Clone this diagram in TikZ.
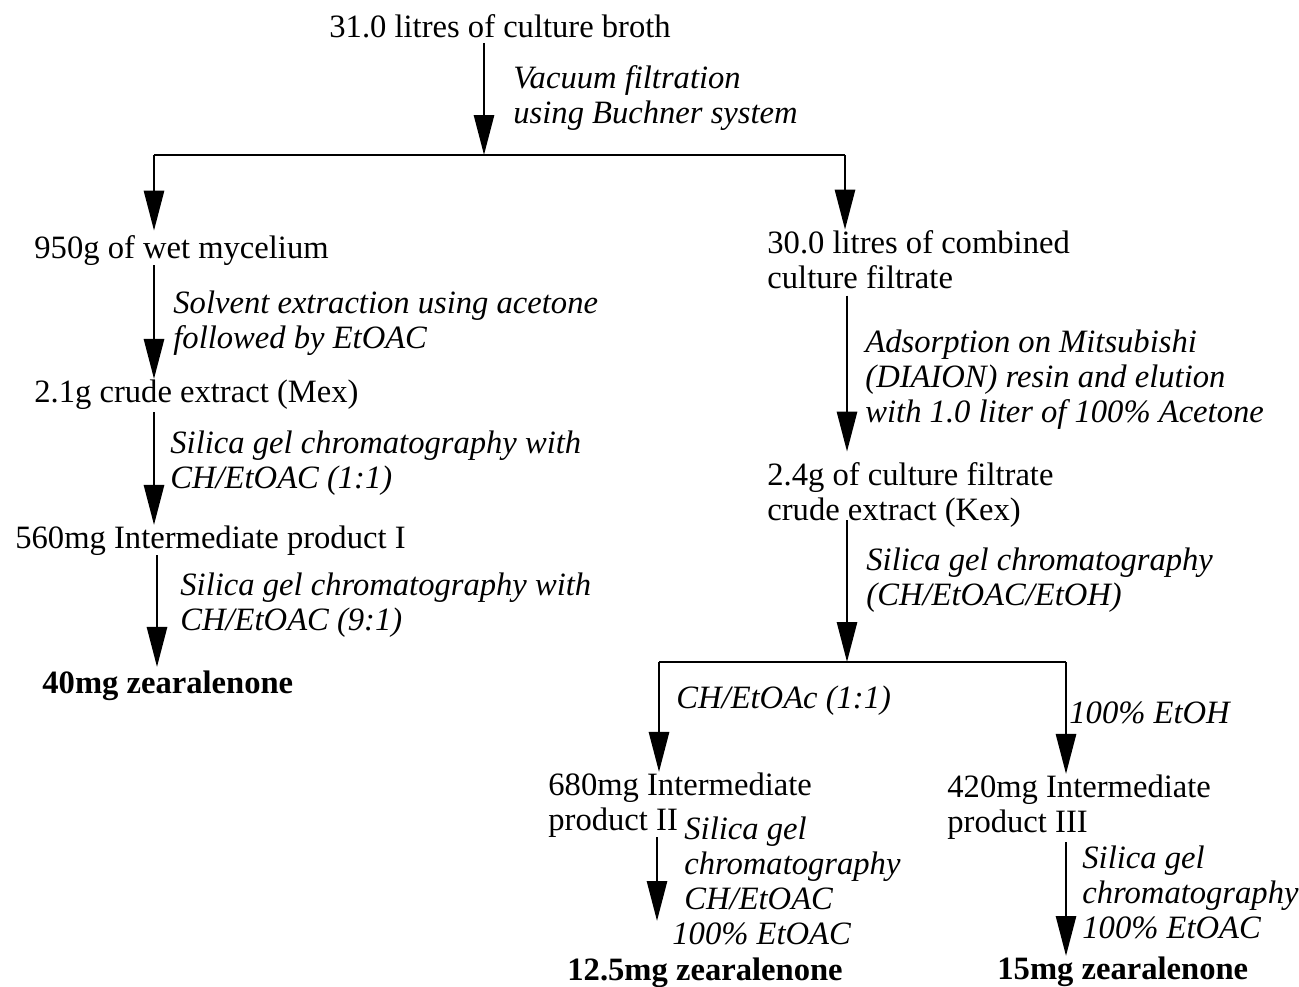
\documentclass[tikz,border=0pt]{standalone}
\usepackage{fontspec}
\setmainfont{Liberation Serif}
\usetikzlibrary{arrows.meta}

\begin{document}
\begin{tikzpicture}[
    x=0.5pt, y=-0.5pt,
    stage/.style={inner sep=0pt, anchor=base west, font=\fontsize{16.3}{17.5}\selectfont, align=left},
    cond/.style={stage, font=\fontsize{16.3}{17.5}\selectfont\itshape},
    final/.style={stage, font=\fontsize{16.3}{17.5}\selectfont\bfseries},
    arrow/.style={-{Triangle[length=20pt, width=10pt]}, line width=1.4pt},
    fork/.style={line width=1.4pt}
]
\useasboundingbox (0,0) rectangle (1299,986);

% Stages (multi-line nodes sit on their last line)
\node[stage] (broth) at (329,37) {31.0 litres of culture broth};
\node[stage] (wet) at (34,258) {950g of wet mycelium};
\node[stage] (comb) at (767,288) {30.0 litres of combined\\culture filtrate};
\node[stage] (mex) at (34,402) {2.1g crude extract (Mex)};
\node[stage] (int1) at (15,548) {560mg Intermediate product I};
\node[final] (zea1) at (42,693) {40mg zearalenone};
\node[stage] (kex) at (767,520) {2.4g of culture filtrate\\crude extract (Kex)};
\node[stage] (int2) at (548,830) {680mg Intermediate\\product II};
\node[stage] (int3) at (947,832) {420mg Intermediate\\product III};
\node[final] (zea2) at (567,980) {12.5mg zearalenone};
\node[final] (zea3) at (997,979) {15mg zearalenone};

% Branch points
\coordinate (split1) at (484,155);
\coordinate (fork1L) at (154,155);
\coordinate (fork1R) at (845,155);
\coordinate (split2) at (847,662);
\coordinate (fork2L) at (659,662);
\coordinate (fork2R) at (1066,662);

% Connections
\draw[arrow, shorten <=2.5pt] (broth.south -| split1) -- (split1);
\draw[fork] (fork1L) -- (fork1R);
\draw[arrow, shorten >=2pt] (fork1L) -- (wet.north -| fork1L);
\draw[arrow] (fork1R) -- (comb.north -| fork1R);
\draw[arrow] (wet.south -| fork1L) -- (mex.north -| fork1L);
\draw[arrow, shorten <=1.5pt] (mex.south -| fork1L) -- (int1.north -| fork1L);
\draw[arrow, shorten >=1.5pt] ([xshift=1.5pt]int1.south -| fork1L) -- ([xshift=1.5pt]zea1.north -| fork1L);
\draw[arrow, shorten <=3.5pt, shorten >=5pt] (comb.south -| split2) -- (kex.north -| split2);
\draw[arrow, shorten <=-3.5pt] (kex.south -| split2) -- (split2);
\draw[fork] (fork2L) -- (fork2R);
\draw[arrow] (fork2L) -- (int2.north -| fork2L);
\draw[arrow] (fork2R) -- (int3.north -| fork2R);
\draw[arrow, shorten >=18pt] ([xshift=-1pt]int2.south -| fork2L) -- ([xshift=-1pt]zea2.north -| fork2L);
\draw[arrow, shorten <=1.5pt] (int3.south -| fork2R) -- (zea3.north -| fork2R);

% Labels
\node[cond] (vac) at (513,123) {Vacuum filtration\\using Buchner system};
\node[cond] (solv) at (173,348) {Solvent extraction using acetone\\followed by EtOAC};
\node[cond] (sil1) at (170,488) {Silica gel chromatography with\\CH/EtOAC (1:1)};
\node[cond] (sil2) at (180,630) {Silica gel chromatography with\\CH/EtOAC (9:1)};
\node[cond] (ads) at (865,422) {Adsorption on Mitsubishi\\(DIAION) resin and elution\\with 1.0 liter of 100\% Acetone};
\node[cond] (sil3) at (866,605) {Silica gel chromatography\\(CH/EtOAC/EtOH)};
\node[cond] (chea) at (676,708) {CH/EtOAc (1:1)};
\node[cond] (etoh) at (1069,723) {100\% EtOH};
\node[cond] (sil4) at (684,944) {Silica gel\\chromatography\\CH/EtOAC\\\hspace*{-6pt}100\% EtOAC};
\node[cond] (sil5) at (1082,938) {Silica gel\\chromatography\\100\% EtOAC};

\end{tikzpicture}
\end{document}
